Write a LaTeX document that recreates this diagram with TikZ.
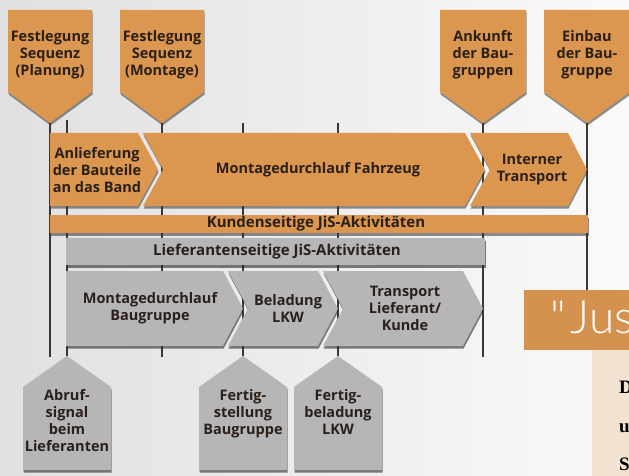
\documentclass[tikz,border=0pt]{standalone}
\usepackage{fontspec}
\setmainfont{Open Sans}
\newfontfamily\titlefont{Lato Light}
\newfontfamily\bookfont{Liberation Serif}
\usetikzlibrary{shadows}

\definecolor{jisorange}{HTML}{DB964F}
\definecolor{jisgray}{HTML}{B6B6B6}
\definecolor{jistext}{HTML}{2A2019}
\definecolor{jisline}{HTML}{383838}
\definecolor{jisbox}{HTML}{D4924E}
\definecolor{jisbeige}{HTML}{F2E3D2}

\tikzset{
  lbl/.style={font=\bfseries\fontsize{14.5}{17}\selectfont, text=jistext, align=center, inner sep=0pt},
  barlbl/.style={lbl, font=\bfseries\fontsize{15}{15}\selectfont},
  oshape/.style={fill=jisorange, drop shadow={shadow xshift=.6pt, shadow yshift=-2.5pt, opacity=.55, fill=black!80}},
  gshape/.style={fill=jisgray, drop shadow={shadow xshift=.6pt, shadow yshift=-2.5pt, opacity=.6, fill=black!85}},
  tline/.style={draw=jisline, line width=1.3pt},
}

\newcommand{\topmarker}[4]{%
  \path[oshape] (#2,10) -- (#3,10) -- (#3,92) -- ({(#2+#3)/2},123) -- (#2,92) -- cycle;
  \node[lbl] (#1) at ({(#2+#3)/2},55) {#4};}
\newcommand{\botmarker}[4]{%
  \path[gshape] (#2,387) -- ({(#2+#3)/2},356) -- (#3,387) -- (#3,470) -- (#2,470) -- cycle;
  \node[lbl, anchor=north] (#1) at ({(#2+#3)/2},389) {#4};}

\begin{document}
\begin{tikzpicture}[x=1pt, y=-1pt]
\path[use as bounding box, clip] (0,0) rectangle (629,476);
\shade[left color=gray!24, right color=gray!4] (0,0) rectangle (629,476);

\coordinate (fp) at (50,123);   \coordinate (fp-e) at (50,357);
\coordinate (fm) at (162,123);  \coordinate (fm-e) at (162,357);
\coordinate (ab) at (483,123);  \coordinate (ab-e) at (483,357);
\coordinate (eb) at (587,123);  \coordinate (eb-e) at (587,300);
\coordinate (as-s) at (67,120); \coordinate (as) at (67,356);
\coordinate (fs-s) at (243,123); \coordinate (fs) at (243,356);
\coordinate (fl-s) at (338,123); \coordinate (fl) at (338,356);

\draw[tline] (fp) -- (fp-e);
\draw[tline] (fm) -- (fm-e);
\draw[tline] (ab) -- (ab-e);
\draw[tline] (eb) -- (eb-e);
\draw[tline] (as-s) -- (as);
\draw[tline] (fs-s) -- (fs);
\draw[tline] (fl-s) -- (fl);

\topmarker{planung}{8}{92}{Festlegung\\Sequenz\\(Planung)}
\topmarker{montage}{120}{204}{Festlegung\\Sequenz\\(Montage)}
\topmarker{ankunft}{440}{526}{Ankunft\\der Bau-\\gruppen}
\topmarker{einbau}{544}{630}{Einbau\\der Bau-\\gruppe}

\path[oshape] (50,133) -- (138,133) -- (158,169.5) -- (138,206) -- (50,206) -- cycle;
\path[oshape] (143,133) -- (465,133) -- (485,169.5) -- (465,206) -- (143,206) -- (163,169.5) -- cycle;
\path[oshape] (470,133) -- (568,133) -- (587,169.5) -- (568,206) -- (470,206) -- (490,169.5) -- cycle;
\node[lbl] (anlieferung) at (97,170) {Anlieferung\\der Bauteile\\an das Band};
\node[lbl] (fahrzeug) at (318,170) {Montagedurchlauf Fahrzeug};
\node[lbl] (intern) at (532,170) {Interner\\Transport};

\path[oshape] (50,215) rectangle (588,233);
\node[barlbl] (kunde) at (316,224) {Kundenseitige JiS-Aktivitäten};
\path[gshape] (66,238) rectangle (485,265);
\node[barlbl] (lieferant) at (277,252) {Lieferantenseitige JiS-Aktivitäten};

\path[gshape] (66,271) -- (223,271) -- (243,308.5) -- (223,346) -- (66,346) -- cycle;
\path[gshape] (228,271) -- (318,271) -- (338,308.5) -- (318,346) -- (228,346) -- (248,308.5) -- cycle;
\path[gshape] (323,271) -- (463,271) -- (483,308.5) -- (463,346) -- (323,346) -- (343,308.5) -- cycle;
\node[lbl] (baugruppe) at (150,308) {Montagedurchlauf\\Baugruppe};
\node[lbl] (beladung) at (288,308) {Beladung\\LKW};
\node[lbl] (transport) at (405,308) {Transport\\Lieferant/\\Kunde};

\botmarker{abruf}{23}{111}{Abruf-\\signal\\beim\\Lieferanten}
\botmarker{fertig}{199}{287}{Fertig-\\stellung\\Baugruppe}
\botmarker{fertigbel}{294}{382}{Fertig-\\beladung\\LKW}

\fill[jisbox] (524,290) rectangle (640,350);
\node[font=\titlefont\fontsize{46}{46}\selectfont, text=white, anchor=base west, inner sep=0pt] (titel) at (550,333) {"\kern5pt Jus};
\fill[jisbeige] (592,350) rectangle (640,476);
\node[font=\bookfont\bfseries\fontsize{19}{19}\selectfont, anchor=base west, inner sep=0pt] (z1) at (619,393) {D};
\node[font=\bookfont\bfseries\fontsize{19}{19}\selectfont, anchor=base west, inner sep=0pt] (z2) at (619,432) {u};
\node[font=\bookfont\bfseries\fontsize{19}{19}\selectfont, anchor=base west, inner sep=0pt] (z3) at (619,470) {S};
\end{tikzpicture}
\end{document}
